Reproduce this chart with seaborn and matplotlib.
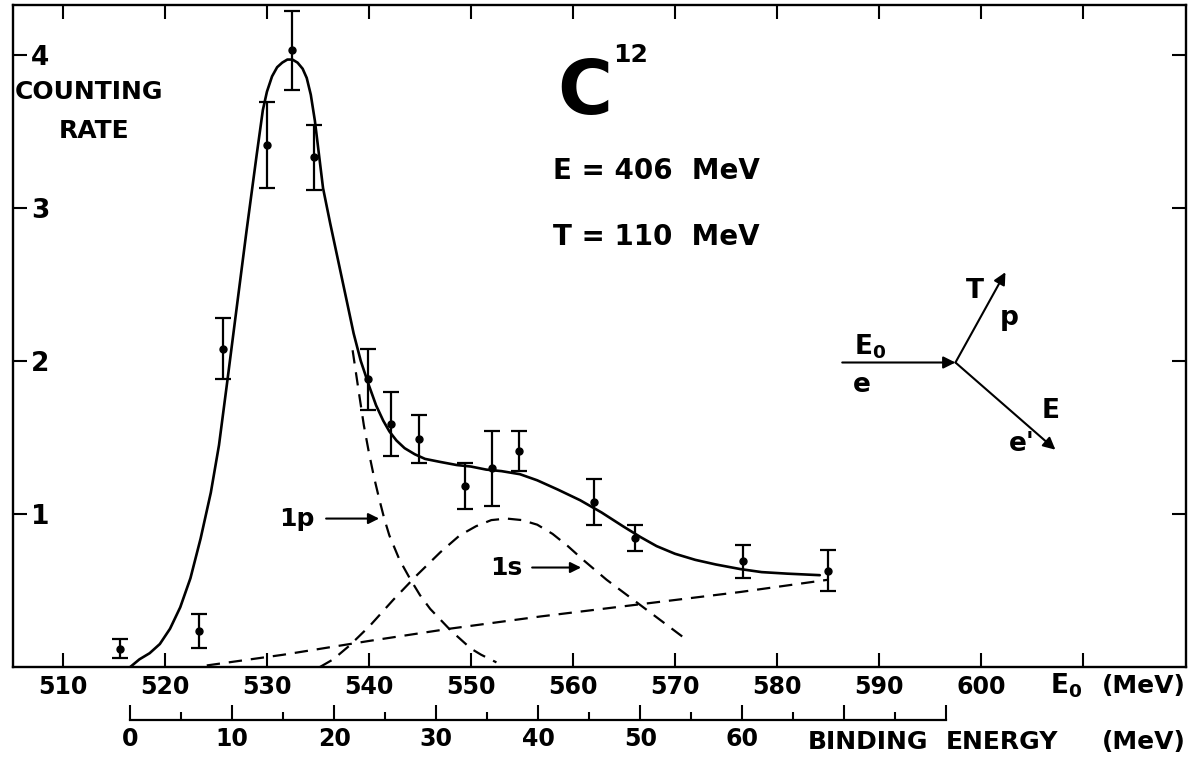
import matplotlib
matplotlib.use('Agg')
import matplotlib.pyplot as plt
from matplotlib.ticker import FixedLocator
import seaborn as sns
import pandas as pd

# measured points (E0 in MeV, counting rate, error)
e0_points = [515.6, 523.3, 525.7, 530.0, 532.5, 534.6, 539.9, 542.2,
             544.9, 549.4, 552.1, 554.7, 562.1, 566.1, 576.7, 585.0]
rate_points = [0.12, 0.235, 2.08, 3.41, 4.03, 3.33, 1.88, 1.59,
               1.49, 1.18, 1.30, 1.41, 1.08, 0.84, 0.69, 0.63]
rate_errors = [0.06, 0.11, 0.20, 0.28, 0.26, 0.21, 0.20, 0.21,
               0.16, 0.15, 0.245, 0.13, 0.15, 0.085, 0.11, 0.135]

# total fitted curve (solid)
fit_e0 = [516.6, 517.5, 518.5, 519.5, 520.5, 521.5, 522.5, 523.5, 524.5, 525.3,
          526.1, 527.0, 528.0, 529.0, 529.6, 530.0, 530.5, 531.0, 531.5, 532.0,
          532.5, 533.0, 533.5, 533.9, 534.3, 534.7, 535.1, 535.5, 536.2, 537.0,
          537.8, 538.5, 539.2, 540.0, 540.7, 541.4, 542.0, 542.7, 543.5, 544.5,
          545.5, 547.0, 548.6, 550.0, 551.5, 553.0, 554.8, 556.5, 558.5, 560.7,
          562.8, 564.9, 566.6, 568.2, 570.0, 572.0, 574.0, 576.4, 578.5, 581.0,
          584.2]
fit_rate = [0.00, 0.05, 0.09, 0.15, 0.25, 0.39, 0.58, 0.84, 1.14, 1.45,
            1.86, 2.33, 2.85, 3.35, 3.64, 3.76, 3.86, 3.92, 3.95, 3.97,
            3.97, 3.95, 3.91, 3.85, 3.74, 3.57, 3.35, 3.13, 2.90, 2.65,
            2.40, 2.18, 2.00, 1.84, 1.71, 1.61, 1.54, 1.48, 1.43, 1.39,
            1.36, 1.34, 1.32, 1.31, 1.29, 1.28, 1.26, 1.22, 1.16, 1.09,
            1.01, 0.92, 0.85, 0.79, 0.74, 0.70, 0.67, 0.64, 0.62, 0.61,
            0.60]

# 1p shell contribution (dashed)
p_e0 = [538.4, 539.0, 539.5, 540.0, 540.5, 541.0, 541.5, 542.0, 543.0, 544.0,
        545.0, 546.0, 547.0, 548.0, 549.0, 550.0, 551.0, 552.5]
p_rate = [2.07, 1.80, 1.58, 1.40, 1.24, 1.10, 0.97, 0.86, 0.70, 0.58,
          0.47, 0.38, 0.31, 0.24, 0.18, 0.12, 0.08, 0.03]

# 1s shell contribution (dashed)
s_e0 = [535.2, 536.5, 538.1, 540.1, 542.4, 544.7, 547.0, 548.9, 550.5, 552.0,
        553.5, 555.0, 556.5, 558.0, 559.5, 561.0, 563.3, 565.9, 568.5, 571.3]
s_rate = [0.00, 0.05, 0.14, 0.27, 0.44, 0.60, 0.75, 0.86, 0.92, 0.96,
          0.97, 0.96, 0.93, 0.87, 0.79, 0.70, 0.57, 0.44, 0.31, 0.17]

# background (dashed)
bg_e0 = [524.1, 531.6, 540.0, 547.9, 556.8, 566.6, 576.4, 585.0]
bg_rate = [0.01, 0.08, 0.17, 0.25, 0.33, 0.41, 0.49, 0.57]

e0_ticks = list(range(510, 611, 10))
e0_labels = [str(v) for v in range(510, 601, 10)] + ['']
rate_ticks = [1, 2, 3, 4]
bind_ticks = list(range(0, 81, 10))
bind_labels = [str(v) for v in range(0, 61, 10)] + ['', '']
bind_offset = 516.6

sns.set_theme(style='ticks')
plt.rcParams['font.family'] = ['DejaVu Sans']
plt.rcParams['font.weight'] = 'bold'
plt.rcParams['mathtext.fontset'] = 'dejavusans'
plt.rcParams['axes.edgecolor'] = 'black'
plt.rcParams['text.color'] = 'black'
plt.rcParams['xtick.color'] = 'black'
plt.rcParams['ytick.color'] = 'black'

fig = plt.figure(figsize=(11.88, 7.6), dpi=100)
ax = fig.add_axes([0.0109, 0.1224, 0.9874, 0.8711])

dash = (0, (6, 4))
sns.lineplot(data=pd.DataFrame({'e0': fit_e0, 'rate': fit_rate}), x='e0', y='rate',
             ax=ax, color='black', lw=1.9, sort=False, estimator=None)
for xs, ys in [(p_e0, p_rate), (s_e0, s_rate), (bg_e0, bg_rate)]:
    sns.lineplot(x=xs, y=ys, ax=ax, color='black', lw=1.6, linestyle=dash,
                 sort=False, estimator=None)
ax.errorbar(e0_points, rate_points, yerr=rate_errors, fmt='o', ms=5, color='black',
            ecolor='black', elinewidth=1.6, capsize=6, capthick=1.6)

ax.set_xlim(505.1, 620.1)
ax.set_ylim(0, 4.327)
ax.set_xlabel('')
ax.set_ylabel('')
ax.set_xticks(e0_ticks)
ax.set_xticklabels(e0_labels)
ax.set_yticks(rate_ticks)
ax.set_yticklabels([str(v) for v in rate_ticks])
ax.tick_params(axis='x', direction='in', length=10, width=1.5, top=True, bottom=True,
               pad=6, labelsize=17)
ax.tick_params(axis='y', direction='in', length=10, width=1.5, left=True, right=True,
               pad=-13, labelsize=19)
for lab in ax.get_yticklabels():
    lab.set_horizontalalignment('left')
for s in ax.spines.values():
    s.set_linewidth(1.7)
    s.set_visible(True)

# binding energy scale below
bind = ax.secondary_xaxis(-0.080, functions=(lambda e: e - bind_offset,
                                             lambda b: b + bind_offset))
bind.set_xticks(bind_ticks)
bind.set_xticklabels(bind_labels)
bind.xaxis.set_minor_locator(FixedLocator(list(range(5, 80, 10))))
bind.tick_params(which='major', direction='in', length=11, width=1.5, pad=5,
                 labelsize=17, colors='black')
bind.tick_params(which='minor', direction='in', length=6, width=1.5)
bind.spines['bottom'].set_bounds(0, 80)
bind.spines['bottom'].set_linewidth(1.6)

tx = ax.get_xaxis_transform()
ax.text(606.8, -0.029, r'$\mathbf{E}_{\mathbf{0}}$', transform=tx,
        ha='left', va='center', fontsize=19)
ax.text(1.0, -0.029, '(MeV)', transform=ax.transAxes,
        ha='right', va='center', fontsize=18, fontweight='bold')
ax.text(583.0, -0.113, 'BINDING', transform=tx,
        ha='left', va='center', fontsize=18, fontweight='bold')
ax.text(596.5, -0.113, 'ENERGY', transform=tx,
        ha='left', va='center', fontsize=18, fontweight='bold')
ax.text(1.0, -0.113, '(MeV)', transform=ax.transAxes,
        ha='right', va='center', fontsize=18, fontweight='bold')

# labels in the plot
ax.text(512.6, 3.76, 'COUNTING', ha='center', va='center', fontsize=18, fontweight='bold')
ax.text(513.1, 3.50, 'RATE', ha='center', va='center', fontsize=18, fontweight='bold')
ax.text(561.2, 3.75, 'C', ha='center', va='center', fontsize=54, fontweight='bold')
ax.text(565.6, 4.00, '12', ha='center', va='center', fontsize=18, fontweight='bold')
ax.text(558.0, 3.24, 'E = 406  MeV', ha='left', va='center', fontsize=20, fontweight='bold')
ax.text(558.0, 2.81, 'T = 110  MeV', ha='left', va='center', fontsize=20, fontweight='bold')

ax.text(532.9, 0.97, '1p', ha='center', va='center', fontsize=18, fontweight='bold')
ax.annotate('', xy=(541.0, 0.97), xytext=(535.8, 0.97),
            arrowprops=dict(arrowstyle='-|>', color='black', lw=1.5,
                            mutation_scale=16, shrinkA=0, shrinkB=0))
ax.text(553.5, 0.65, '1s', ha='center', va='center', fontsize=18, fontweight='bold')
ax.annotate('', xy=(560.8, 0.65), xytext=(556.0, 0.65),
            arrowprops=dict(arrowstyle='-|>', color='black', lw=1.5,
                            mutation_scale=16, shrinkA=0, shrinkB=0))

# kinematics sketch
vertex = (597.5, 1.99)
arrow_kw = dict(arrowstyle='-|>', color='black', lw=1.5, mutation_scale=18,
                shrinkA=0, shrinkB=0)
ax.annotate('', xy=vertex, xytext=(586.4, 1.99), arrowprops=arrow_kw)
ax.annotate('', xy=(602.4, 2.58), xytext=vertex, arrowprops=arrow_kw)
ax.annotate('', xy=(607.3, 1.42), xytext=vertex, arrowprops=arrow_kw)
ax.text(589.1, 2.09, r'$\mathbf{E}_{\mathbf{0}}$', ha='center', va='center', fontsize=19)
ax.text(588.3, 1.84, 'e', ha='center', va='center', fontsize=19, fontweight='bold')
ax.text(599.4, 2.46, 'T', ha='center', va='center', fontsize=19, fontweight='bold')
ax.text(602.8, 2.28, 'p', ha='center', va='center', fontsize=19, fontweight='bold')
ax.text(606.8, 1.67, 'E', ha='center', va='center', fontsize=19, fontweight='bold')
ax.text(604.0, 1.46, "e'", ha='center', va='center', fontsize=19, fontweight='bold')

fig.savefig('out.png', dpi=100)
